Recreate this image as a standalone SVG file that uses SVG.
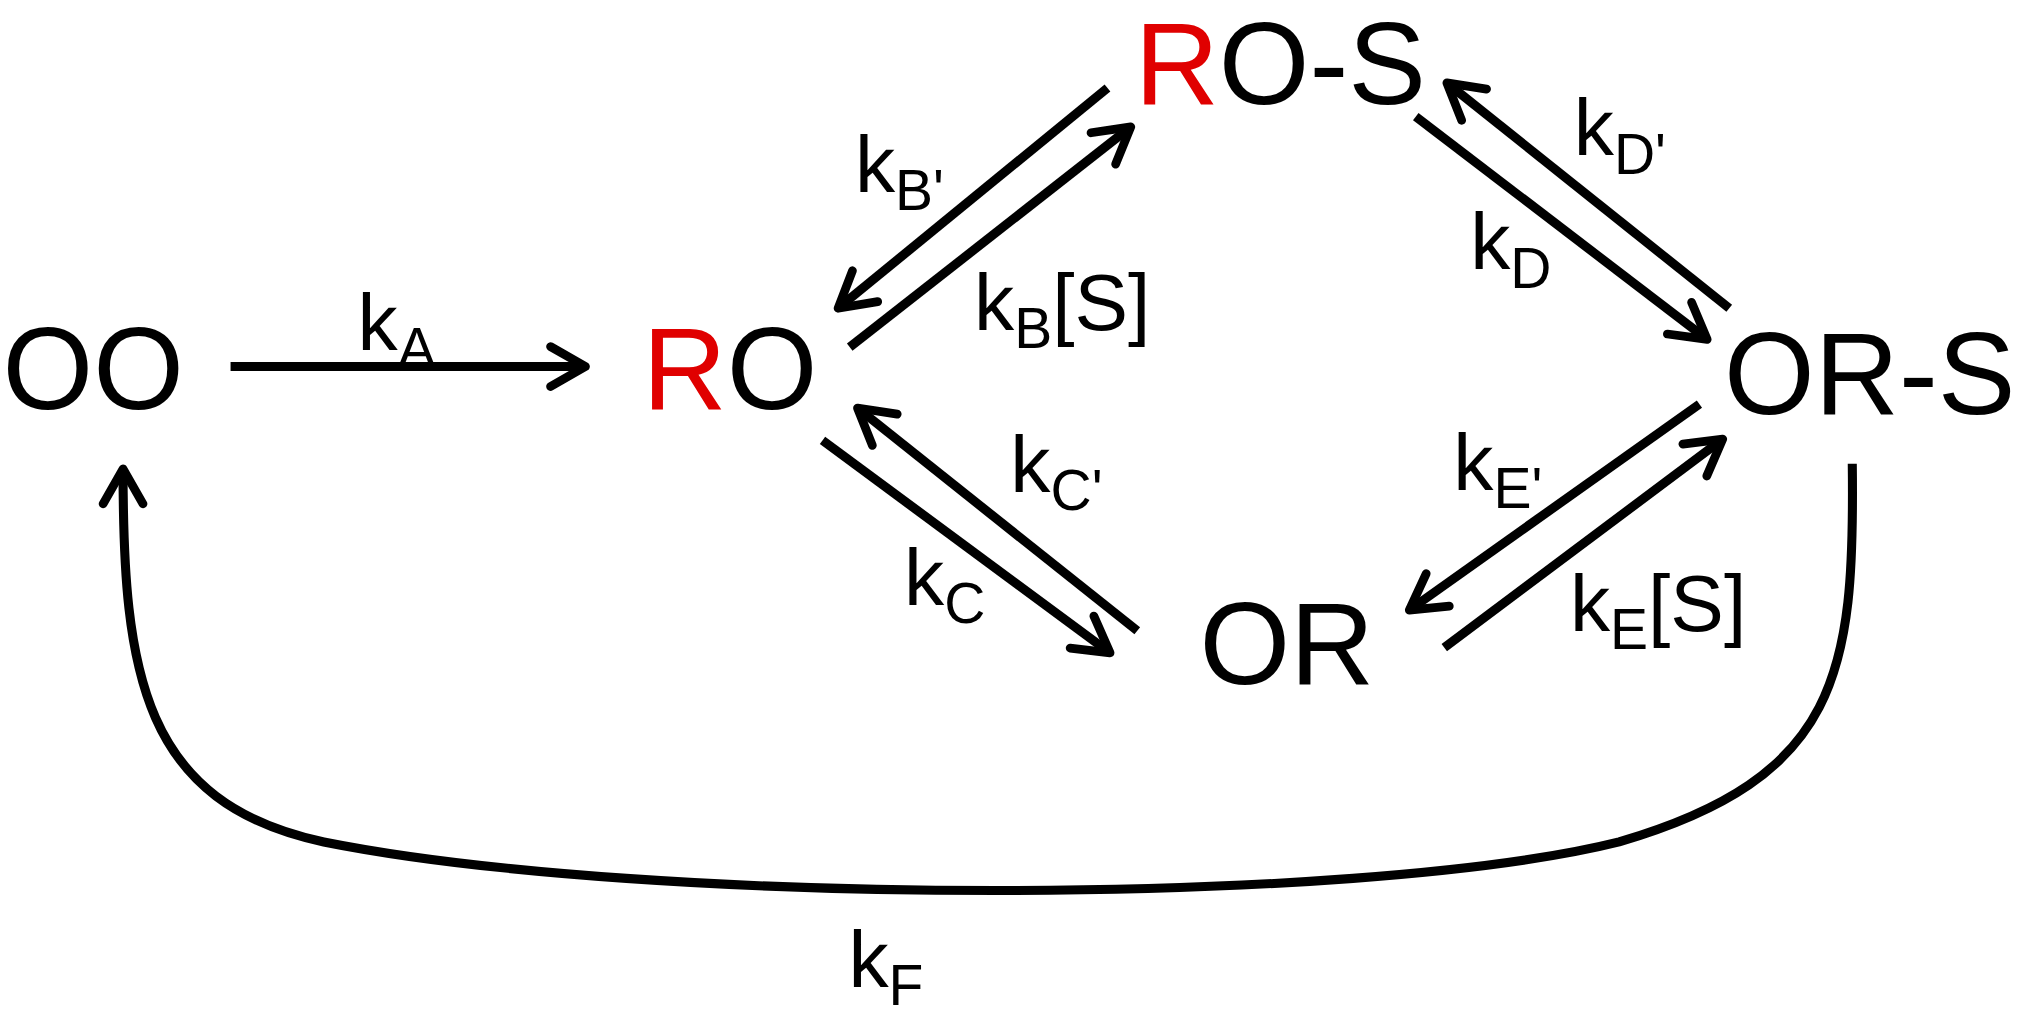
<svg xmlns="http://www.w3.org/2000/svg" width="2031" height="1018" viewBox="0 0 2031 1018">
<style>
.n{font-family:"Liberation Sans",Arial,sans-serif;font-size:90px;fill:#000}
.r{fill:#e00000}
.k{font-family:"Liberation Sans",Arial,sans-serif;font-size:62px;fill:#000}
.s{font-size:44px}
.c{fill:none;stroke:#000;stroke-width:7}
</style>
<defs>
<marker id="h" viewBox="0 0 20 20" refX="17" refY="10" markerWidth="5.5" markerHeight="5.5" orient="auto" markerUnits="strokeWidth">
<path d="M3,2 L17,10 L3,18" fill="none" stroke="#000" stroke-width="3.5" stroke-linecap="round" stroke-linejoin="round"/>
</marker>
</defs>
<rect width="2031" height="1018" fill="#fff"/>
<g transform="scale(1.2953)">
<g id="OO"><text class="n" x="2" y="316">OO</text></g>
<g id="RO"><text class="n" x="496" y="316"><tspan class="r">R</tspan>O</text></g>
<g id="ROS"><text class="n" x="876" y="80"><tspan class="r">R</tspan>O-S</text></g>
<g id="ORS"><text class="n" x="1331" y="320">OR-S</text></g>
<g id="OR"><text class="n" x="926" y="528">OR</text></g>
<g id="connectors">
<line class="c" x1="178" y1="283" x2="452" y2="283" marker-end="url(#h)"/>
<line class="c" x1="855" y1="68" x2="647" y2="238" marker-end="url(#h)"/>
<line class="c" x1="656" y1="268" x2="873" y2="98" marker-end="url(#h)"/>
<line class="c" x1="1335" y1="238" x2="1117" y2="64" marker-end="url(#h)"/>
<line class="c" x1="1093" y1="90" x2="1318" y2="262" marker-end="url(#h)"/>
<line class="c" x1="635" y1="340" x2="857" y2="504" marker-end="url(#h)"/>
<line class="c" x1="878" y1="487" x2="662" y2="315" marker-end="url(#h)"/>
<line class="c" x1="1312" y1="312" x2="1088" y2="471" marker-end="url(#h)"/>
<line class="c" x1="1115" y1="500" x2="1330" y2="339" marker-end="url(#h)"/>
<path class="c" d="M1430,358 C1432,520 1420,600 1250,650 C1050,700 500,700 250,650 C110,620 95,520 95,362" marker-end="url(#h)"/>
</g>
<g id="labels">
<text class="k" x="276" y="270">k<tspan class="s" dy="14">A</tspan></text>
<text class="k" x="660" y="148">k<tspan class="s" dy="14">B'</tspan></text>
<text class="k" x="752" y="255">k<tspan class="s" dy="14">B</tspan><tspan dy="-14">[S]</tspan></text>
<text class="k" x="1215" y="120">k<tspan class="s" dy="14">D'</tspan></text>
<text class="k" x="1135" y="208">k<tspan class="s" dy="14">D</tspan></text>
<text class="k" x="780" y="380">k<tspan class="s" dy="14">C'</tspan></text>
<text class="k" x="698" y="467">k<tspan class="s" dy="14">C</tspan></text>
<text class="k" x="1122" y="378">k<tspan class="s" dy="14">E'</tspan></text>
<text class="k" x="1212" y="487">k<tspan class="s" dy="14">E</tspan><tspan dy="-14">[S]</tspan></text>
<text class="k" x="655" y="762">k<tspan class="s" dy="14">F</tspan></text>
</g>
</g>
</svg>
